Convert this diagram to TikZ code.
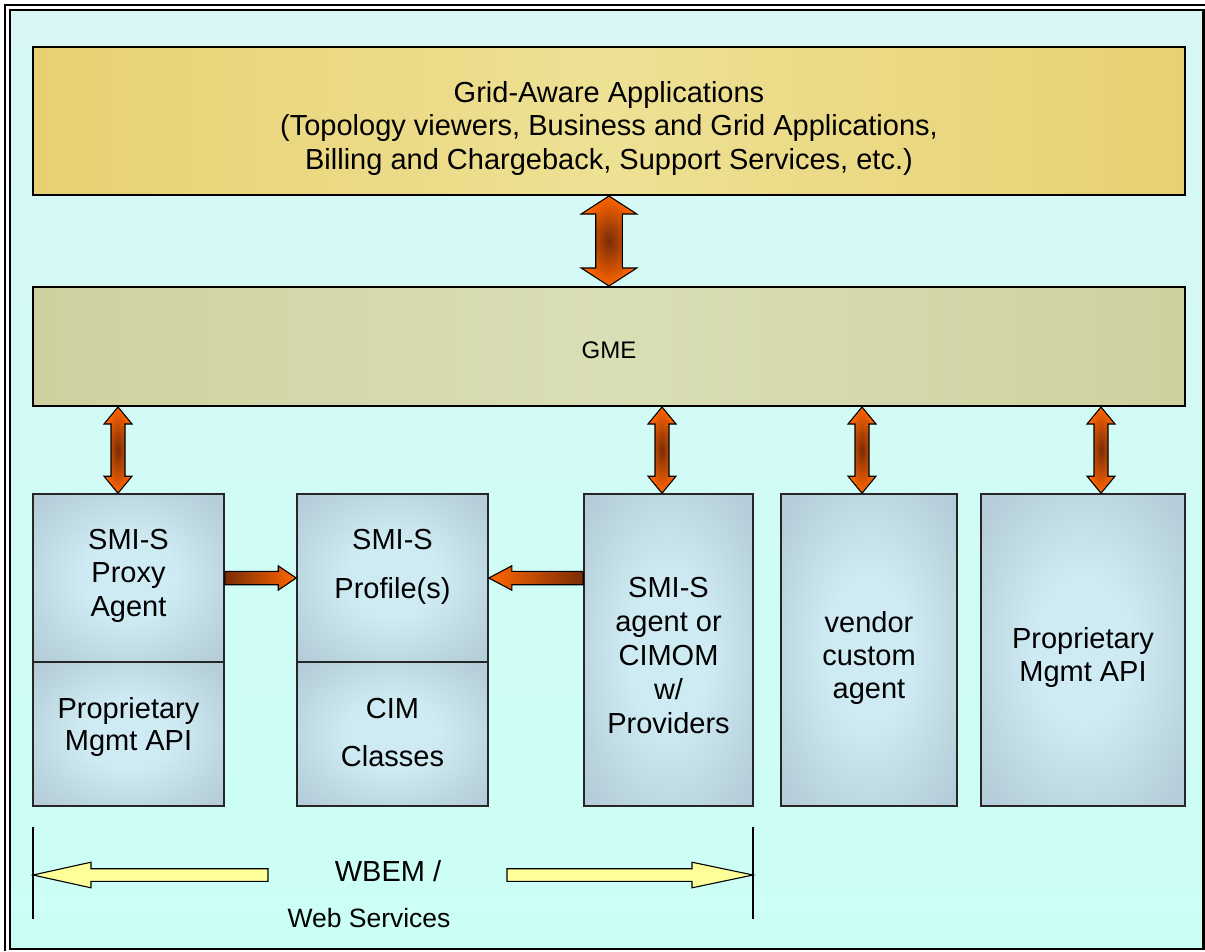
\documentclass[tikz,border=0pt]{standalone}
\usepackage{fontspec}
\setmainfont{Liberation Sans}
\usetikzlibrary{calc}

\definecolor{bgtop}{RGB}{216,247,245}
\definecolor{bgbot}{RGB}{203,255,246}
\definecolor{golddark}{RGB}{232,208,114}
\definecolor{goldlight}{RGB}{237,225,148}
\definecolor{olivedark}{RGB}{206,209,158}
\definecolor{olivelight}{RGB}{218,222,182}
\definecolor{boxout}{RGB}{180,205,216}
\definecolor{boxin}{RGB}{206,234,242}
\definecolor{arrorange}{RGB}{255,102,0}
\definecolor{arrbrown}{RGB}{122,44,6}
\definecolor{paleyellow}{RGB}{255,255,153}

\pgfdeclareradialshading{boxglow}{\pgfpoint{0bp}{0bp}}{color(0bp)=(boxin); color(12bp)=(boxin); color(33bp)=(boxout); color(50bp)=(boxout)}

% vertical double block arrow: top tip, bottom tip, shaft half, head half, head length
\newcommand\vdarrow[5]{%
  \draw[orangearrow] (#1) -- ++(#4,#5) -- ++(#3-#4,0) -- ($(#2)+(#3,-#5)$)
    -- ++(#4-#3,0) -- (#2) -- ++(-#4,-#5) -- ++(#4-#3,0)
    -- ($(#1)+(-#3,#5)$) -- ++(#3-#4,0) -- cycle;}
% horizontal block arrow: tail, tip, shaft half, head half, head length (negative = leftwards)
\newcommand\harrow[6][]{%
  \draw[#1] ($(#2)+(0,-#4)$) -- ($(#3)+({0-(#6)},-#4)$) -- ($(#3)+({0-(#6)},-#5)$)
    -- (#3) -- ($(#3)+({0-(#6)},#5)$) -- ($(#3)+({0-(#6)},#4)$)
    -- ($(#2)+(0,#4)$) -- cycle;}

\begin{document}
\begin{tikzpicture}[x=1pt, y=-1pt,
  appsbox/.style={draw=black, line width=2pt, minimum width=1152pt, minimum height=148pt,
    left color=golddark, right color=golddark, middle color=goldlight},
  gmebox/.style={draw=black, line width=2pt, minimum width=1152pt, minimum height=119pt,
    left color=olivedark, right color=olivedark, middle color=olivelight},
  bluebox/.style={draw=black!85, line width=1.6pt, shade, shading=boxglow, inner sep=0pt},
  lbl/.style={align=center, anchor=base, inner sep=0pt, font=\fontsize{29}{33.5}\selectfont},
  orangearrow/.style={draw=black, line width=1.1pt, inner color=arrbrown, outer color=arrorange},
  orangeright/.style={draw=black, line width=1.1pt, left color=arrbrown, right color=arrorange},
  orangeleft/.style={draw=black, line width=1.1pt, left color=arrorange, right color=arrbrown},
  yellowarrow/.style={draw=black, line width=1.1pt, fill=paleyellow},
  bar/.style={draw=black, line width=1.3pt}]

\useasboundingbox (0,0) rectangle (1205,951);

% frame
\draw[line width=2pt] (5,951) -- (5,5) -- (1205,5);
\draw[line width=2.6pt, top color=bgtop, bottom color=bgbot] (10,10) rectangle (1203.5,949);

% layers
\node[appsbox] (apps) at (609,121) {};
\node[gmebox] (gme) at (609,346.5) {};

\node[bluebox, minimum width=191pt, minimum height=168pt] (proxytop) at (128.5,578) {};
\node[bluebox, minimum width=191pt, minimum height=144pt] (proxybot) at (128.5,734) {};
\node[bluebox, minimum width=191pt, minimum height=168pt] (profiletop) at (392.5,578) {};
\node[bluebox, minimum width=191pt, minimum height=144pt] (profilebot) at (392.5,734) {};
\node[bluebox, minimum width=169pt, minimum height=312pt] (smis) at (668.5,650) {};
\node[bluebox, minimum width=176pt, minimum height=312pt] (vendor) at (869,650) {};
\node[bluebox, minimum width=204pt, minimum height=312pt] (propr) at (1083,650) {};

% texts (base = last line)
\node[lbl] (appstxt) at (609,169) {Grid-Aware Applications\\(Topology viewers, Business and Grid Applications,\\Billing and Chargeback, Support Services, etc.)};
\node[lbl, font=\fontsize{24}{28}\selectfont] (gmetxt) at (609,358) {GME};
\node[lbl] (proxytoptxt) at (128.5,616) {SMI-S\\Proxy\\Agent};
\node[lbl, font=\fontsize{29}{32.5}\selectfont] (proxybottxt) at (128.5,750.5) {Proprietary\\Mgmt API};
\node[lbl, font=\fontsize{29}{49}\selectfont] (profiletoptxt) at (392.5,598) {SMI-S\\Profile(s)};
\node[lbl, font=\fontsize{29}{48}\selectfont] (profilebottxt) at (392.5,766) {CIM\\Classes};
\node[lbl, font=\fontsize{29}{33.8}\selectfont] (smistxt) at (668.5,733) {SMI-S\\agent or\\CIMOM\\w/\\Providers};
\node[lbl, font=\fontsize{29}{33}\selectfont] (vendortxt) at (869,698) {vendor\\custom\\agent};
\node[lbl, font=\fontsize{29}{33.7}\selectfont] (proprtxt) at (1083,681.7) {Proprietary\\Mgmt API};

% arrows between layers
\vdarrow{apps.south}{gme.north}{13.3}{27.8}{18}
\coordinate (t1) at ([xshift=-10.5pt]proxytop.north);
\coordinate (t2) at ([xshift=-6.5pt]smis.north);
\coordinate (t3) at ([xshift=-7pt]vendor.north);
\coordinate (t4) at ([xshift=18pt]propr.north);
\vdarrow{gme.south -| t1}{t1}{7}{14}{17}
\vdarrow{gme.south -| t2}{t2}{7}{14}{17}
\vdarrow{gme.south -| t3}{t3}{7}{14}{17}
\vdarrow{gme.south -| t4}{t4}{7}{14}{17}

\harrow[orangeright]{proxytop.east}{profiletop.west}{6.7}{12.2}{18}
\harrow[orangeleft]{profiletop.east -| smis.west}{profiletop.east}{6.7}{12.2}{-23}

% WBEM span
\coordinate (wbemL) at (33,875);
\coordinate (wbemR) at (753,875);
\coordinate (tailL) at (268,875);
\coordinate (tailR) at (507,875);
\draw[bar] ($(wbemL)+(0,-48)$) -- ($(wbemL)+(0,44)$);
\draw[bar] ($(wbemR)+(0,-48)$) -- ($(wbemR)+(0,44)$);
\harrow[yellowarrow]{tailL}{wbemL}{6.3}{12.8}{-58}
\harrow[yellowarrow]{tailR}{wbemR}{6.3}{12.8}{61}
\node[lbl] (wbemtxt) at (388,881) {WBEM /};
\node[lbl, font=\fontsize{26.5}{30}\selectfont] (wstxt) at (369,927) {Web Services};
\end{tikzpicture}
\end{document}
